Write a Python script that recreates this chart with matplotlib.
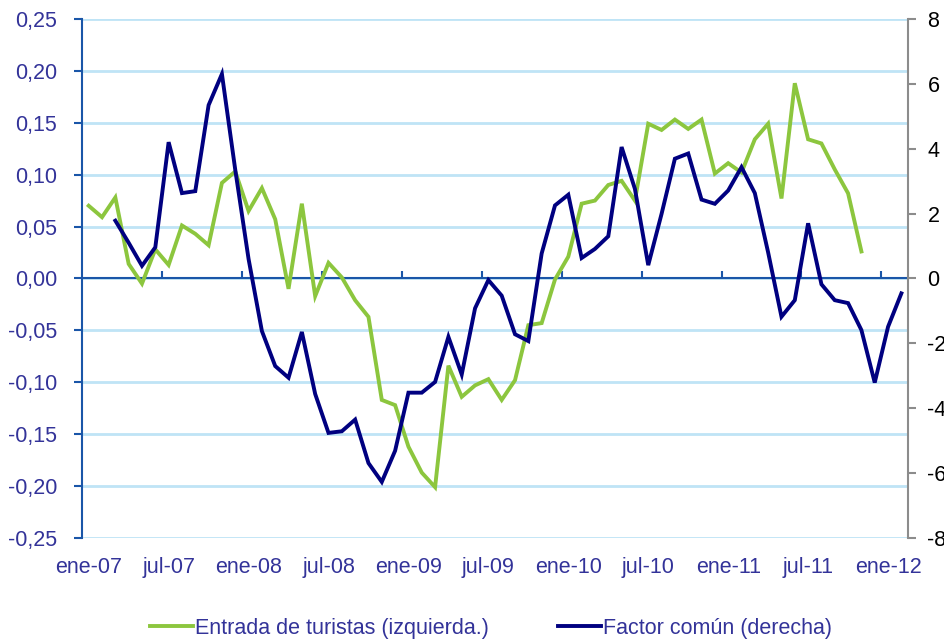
import numpy as np
import matplotlib.pyplot as plt

plt.rcParams['font.family'] = ['Liberation Sans', 'DejaVu Sans']
plt.rcParams['axes.unicode_minus'] = False

# meses ene-07 .. feb-12 (62 categorias)
meses = ['ene', 'feb', 'mar', 'abr', 'may', 'jun', 'jul', 'ago', 'sep', 'oct', 'nov', 'dic']
categorias = ['%s-%02d' % (meses[i % 12], 7 + i // 12) for i in range(62)]

# Entrada de turistas (eje izquierdo), ene-07 .. nov-11
turistas = [0.070, 0.059, 0.078, 0.014, -0.005, 0.028, 0.013, 0.051, 0.043, 0.032,
            0.092, 0.103, 0.065, 0.087, 0.057, -0.010, 0.072, -0.017, 0.015, 0.001,
            -0.021, -0.037, -0.117, -0.122, -0.162, -0.187, -0.201, -0.084, -0.114, -0.103,
            -0.097, -0.117, -0.098, -0.045, -0.043, -0.001, 0.021, 0.072, 0.075, 0.090,
            0.094, 0.075, 0.149, 0.143, 0.153, 0.144, 0.153, 0.101, 0.111, 0.102,
            0.134, 0.149, 0.077, 0.188, 0.134, 0.130, 0.105, 0.082, 0.026]

# Factor comun (eje derecho), mar-07 .. feb-12
factor = [1.78, 1.10, 0.39, 0.96, 4.20, 2.63, 2.69, 5.34, 6.30, 3.35,
          0.60, -1.62, -2.70, -3.06, -1.65, -3.56, -4.76, -4.71, -4.35, -5.69,
          -6.27, -5.31, -3.52, -3.52, -3.19, -1.80, -2.96, -0.92, -0.05, -0.53,
          -1.72, -1.93, 0.77, 2.25, 2.58, 0.63, 0.91, 1.30, 4.05, 2.76,
          0.41, 1.99, 3.69, 3.85, 2.43, 2.30, 2.71, 3.43, 2.63, 0.80,
          -1.18, -0.67, 1.70, -0.18, -0.67, -0.76, -1.59, -3.21, -1.49, -0.46]

izq_ticks = [-0.25, -0.20, -0.15, -0.10, -0.05, 0.0, 0.05, 0.10, 0.15, 0.20, 0.25]
der_ticks = [-8, -6, -4, -2, 0, 2, 4, 6, 8]

x_tur = np.arange(len(turistas))
x_fac = np.arange(2, 2 + len(factor))

texto = '#333399'
azul_eje = '#1A56A8'
verde = '#8CC63E'
azul = '#000080'
rejilla = '#BFE4F6'
fs = 15.5

fig = plt.figure(figsize=(9.44, 6.39), dpi=100)
ax = fig.add_axes([0.0869, 0.158, 0.875, 0.8125])
ax2 = ax.twinx()

ax.set_xlim(-0.5, len(categorias) - 0.5)
ax.set_ylim(-0.25, 0.25)
ax.set_yticks(izq_ticks)
ax.set_yticklabels([('%.2f' % v).replace('.', ',') for v in izq_ticks])
ax.grid(axis='y', color=rejilla, lw=2)
ax.set_axisbelow(True)

ax2.set_ylim(-8, 8)
ax2.set_yticks(der_ticks)
ax2.set_yticklabels([str(v) for v in der_ticks])

for a in (ax, ax2):
    a.spines['top'].set_visible(False)
    a.spines['bottom'].set_visible(False)
ax2.spines['left'].set_visible(False)
ax.spines['right'].set_visible(False)
ax.spines['left'].set_color(azul_eje)
ax.spines['left'].set_linewidth(1.5)
ax2.spines['right'].set_color('#8C8C8C')
ax2.spines['right'].set_linewidth(1.5)

ax.tick_params(axis='y', colors=azul_eje, labelcolor=texto, labelsize=fs, length=6, width=1.5, pad=12)
ax2.tick_params(axis='y', colors='#8C8C8C', labelcolor='black', labelsize=fs, length=6, width=1.5, pad=8)

# etiquetas de categoria abajo
ax.set_xticks(np.arange(0, len(categorias), 6))
ax.set_xticklabels([categorias[i] for i in range(0, len(categorias), 6)])
ax.tick_params(axis='x', length=0, labelsize=fs, labelcolor=texto, pad=14)

# eje de categorias en el cero
ax.axhline(0, color=azul_eje, lw=1.5, zorder=1.5)
sec = ax.secondary_xaxis(0.5)
sec.set_xticks(np.arange(5.5, len(categorias) - 1, 6))
sec.set_xticklabels([])
sec.tick_params(axis='x', direction='out', length=5, width=1.5, colors=azul_eje)
sec.spines['bottom'].set_color(azul_eje)
sec.spines['bottom'].set_linewidth(1.5)

l1, = ax.plot(x_tur, turistas, color=verde, lw=2.8, solid_joinstyle='miter',
              label='Entrada de turistas (izquierda.)')
l2, = ax2.plot(x_fac, factor, color=azul, lw=2.8, solid_joinstyle='miter',
               label='Factor común (derecha)')

leg = fig.legend(handles=[l1, l2], loc='center', bbox_to_anchor=(0.52, 0.017), ncol=2,
                 frameon=False, fontsize=fs, handlelength=2.0, handletextpad=0.1,
                 columnspacing=3.2)
for t in leg.get_texts():
    t.set_color(texto)

fig.savefig('out.png', dpi=100)
